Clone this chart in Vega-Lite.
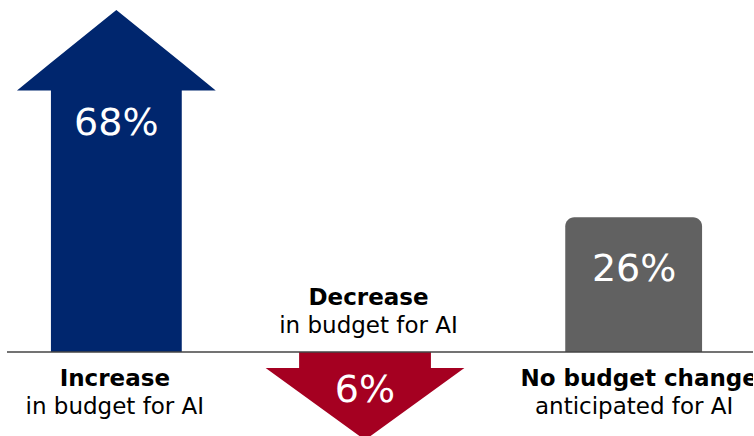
{
  "$schema": "https://vega.github.io/schema/vega-lite/v6.json",
  "width": 754,
  "height": 436,
  "autosize": {"type": "fit", "contains": "padding"},
  "padding": 0,
  "background": "white",
  "config": {"view": {"stroke": null}, "font": "DejaVu Sans"},
  "datasets": {
    "up": [
      {"x": 17, "top": 52, "bottom": 52},
      {"x": 51, "top": 57.5, "bottom": 52},
      {"x": 51, "top": 57.5, "bottom": 0},
      {"x": 116.5, "top": 68, "bottom": 0},
      {"x": 182, "top": 57.5, "bottom": 0},
      {"x": 182, "top": 57.5, "bottom": 52},
      {"x": 216, "top": 52, "bottom": 52}
    ],
    "down": [
      {"x": 266, "top": -3.2, "bottom": -3.2},
      {"x": 299.5, "top": -3.2, "bottom": -8.0},
      {"x": 299.5, "top": 0, "bottom": -8.0},
      {"x": 365.5, "top": 0, "bottom": -17.5},
      {"x": 431.5, "top": 0, "bottom": -8.0},
      {"x": 431.5, "top": -3.2, "bottom": -8.0},
      {"x": 465, "top": -3.2, "bottom": -3.2}
    ],
    "bars": [
      {"x": 566, "x2": 703, "top": 26.8, "bottom": 0}
    ],
    "values": [
      {"x": 116.5, "y": 45.3, "label": "68%"},
      {"x": 365.5, "y": -7.7, "label": "6%"},
      {"x": 635, "y": 16.3, "label": "26%"}
    ],
    "captions": [
      {"x": 115, "y": -5.4, "text": "Increase", "bold": true},
      {"x": 115, "y": -10.9, "text": "in budget for AI", "bold": false},
      {"x": 369, "y": 10.7, "text": "Decrease", "bold": true},
      {"x": 369, "y": 5.2, "text": "in budget for AI", "bold": false},
      {"x": 640, "y": -5.4, "text": "No budget change", "bold": true},
      {"x": 635, "y": -10.9, "text": "anticipated for AI", "bold": false}
    ],
    "baseline": [{"x": 7, "x2": 754, "y": 0}]
  },
  "encoding": {
    "x": {"field": "x", "type": "quantitative", "scale": {"domain": [0, 754], "nice": false, "zero": false}, "axis": null}
  },
  "layer": [
    {
      "data": {"name": "up"},
      "mark": {"type": "area", "color": "#00266E"},
      "encoding": {
        "y": {"field": "top", "type": "quantitative", "scale": {"domain": [-16.7, 70], "nice": false, "zero": false}, "axis": null},
        "y2": {"field": "bottom"}
      }
    },
    {
      "data": {"name": "down"},
      "mark": {"type": "area", "color": "#A50021", "clip": true},
      "encoding": {
        "y": {"field": "top", "type": "quantitative"},
        "y2": {"field": "bottom"}
      }
    },
    {
      "data": {"name": "bars"},
      "mark": {"type": "rect", "color": "#616161", "cornerRadiusTopLeft": 9, "cornerRadiusTopRight": 9},
      "encoding": {
        "x2": {"field": "x2"},
        "y": {"field": "top", "type": "quantitative"},
        "y2": {"field": "bottom"}
      }
    },
    {
      "data": {"name": "baseline"},
      "mark": {"type": "rule", "color": "#444444", "strokeWidth": 1.5},
      "encoding": {
        "x2": {"field": "x2"},
        "y": {"field": "y", "type": "quantitative"}
      }
    },
    {
      "data": {"name": "values"},
      "mark": {"type": "text", "color": "white", "fontSize": 38, "fontWeight": 400, "align": "center", "baseline": "middle"},
      "encoding": {
        "y": {"field": "y", "type": "quantitative"},
        "text": {"field": "label", "type": "nominal"}
      }
    },
    {
      "data": {"name": "captions"},
      "transform": [{"filter": "datum.bold"}],
      "mark": {"type": "text", "color": "black", "fontSize": 23, "fontWeight": "bold", "align": "center", "baseline": "middle", "clip": true},
      "encoding": {
        "y": {"field": "y", "type": "quantitative"},
        "text": {"field": "text", "type": "nominal"}
      }
    },
    {
      "data": {"name": "captions"},
      "transform": [{"filter": "!datum.bold"}],
      "mark": {"type": "text", "color": "black", "fontSize": 23, "fontWeight": 400, "align": "center", "baseline": "middle", "clip": true},
      "encoding": {
        "y": {"field": "y", "type": "quantitative"},
        "text": {"field": "text", "type": "nominal"}
      }
    }
  ]
}
